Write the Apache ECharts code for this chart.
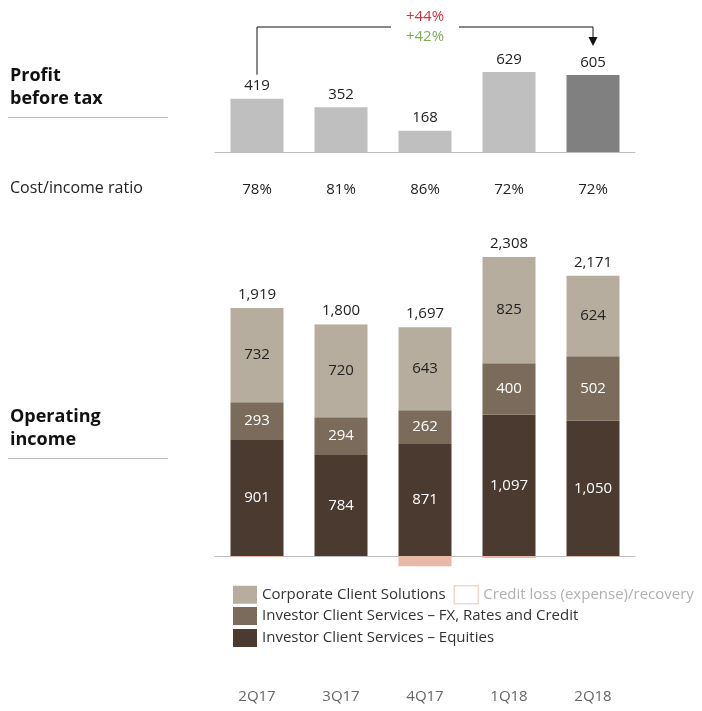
<!DOCTYPE html>
<html>
<head>
<meta charset="utf-8">
<script src="https://cdn.jsdelivr.net/npm/echarts@6/dist/echarts.min.js"></script>
<style>
  html, body { margin: 0; padding: 0; background: #fff; }
  #chart { width: 702px; height: 711px; }
</style>
</head>
<body>
<div id="chart"></div>
<script>
// Quarterly figures (CHF million)
const quarters = ['2Q17', '3Q17', '4Q17', '1Q18', '2Q18'];
const profitBeforeTax = [419, 352, 168, 629, 605];
const costIncomeRatio = ['78%', '81%', '86%', '72%', '72%'];
const corporateClientSolutions = [732, 720, 643, 825, 624];
const icsFxRatesCredit = [293, 294, 262, 400, 502];
const icsEquities = [901, 784, 871, 1097, 1050];
const creditLoss = [-7, 2, -79, -14, -5];
const operatingIncome = [1919, 1800, 1697, 2308, 2171];
const changeLabels = ['+44%', '+42%'];

const FONT = '"Open Sans", "Noto Sans", sans-serif';
const C_CCS = '#b6ad9f';
const C_FX = '#7b6b5b';
const C_EQ = '#4a3a2f';
const C_CREDIT = '#e9b8a6';

const chart = echarts.init(document.getElementById('chart'), null, { renderer: 'canvas' });

const fmt = v => v.toLocaleString('en-US');

const option = {
  animation: false,
  backgroundColor: '#fff',
  textStyle: { fontFamily: FONT },
  grid: [
    { left: 215, width: 420, top: 63, height: 89 },
    { left: 215, width: 420, top: 234, height: 335 }
  ],
  xAxis: [
    {
      type: 'category', gridIndex: 0, data: quarters,
      axisLine: { lineStyle: { color: '#bdbdbd', width: 1 } },
      axisTick: { show: false },
      axisLabel: {
        margin: 30, color: '#222', fontSize: 15, fontFamily: FONT,
        formatter: (v, i) => costIncomeRatio[i]
      }
    },
    {
      type: 'category', gridIndex: 1, data: quarters,
      axisLine: { onZero: true, lineStyle: { color: '#bdbdbd', width: 1 } },
      axisTick: { show: false },
      axisLabel: { margin: 120, color: '#666', fontSize: 15, fontFamily: FONT }
    }
  ],
  yAxis: [
    { type: 'value', gridIndex: 0, min: 0, max: 700, show: false },
    { type: 'value', gridIndex: 1, min: -100, max: 2500, show: false }
  ],
  legend: [
    {
      left: 233, top: 585, padding: 0, itemGap: 8, itemWidth: 24, itemHeight: 18, icon: 'rect',
      textStyle: { fontSize: 15, color: '#333', fontFamily: FONT },
      selectedMode: false,
      data: [
        { name: 'Corporate Client Solutions' },
        { name: 'Credit loss (expense)/recovery',
          itemStyle: { color: '#fff', borderColor: '#f2d6cb', borderWidth: 1.5 },
          textStyle: { color: '#b0b0b0' } }
      ]
    },
    {
      left: 233, top: 607, padding: 0, itemWidth: 24, itemHeight: 18, icon: 'rect',
      textStyle: { fontSize: 15, color: '#333', fontFamily: FONT },
      selectedMode: false,
      data: ['Investor Client Services – FX, Rates and Credit']
    },
    {
      left: 233, top: 629, padding: 0, itemWidth: 24, itemHeight: 18, icon: 'rect',
      textStyle: { fontSize: 15, color: '#333', fontFamily: FONT },
      selectedMode: false,
      data: ['Investor Client Services – Equities']
    }
  ],
  series: [
    {
      name: 'Profit before tax', type: 'bar', xAxisIndex: 0, yAxisIndex: 0,
      barWidth: 53,
      data: profitBeforeTax.map((v, i) => ({
        value: v,
        itemStyle: { color: i === profitBeforeTax.length - 1 ? '#808080' : '#bfbfbf' }
      })),
      label: { show: true, position: 'top', distance: 5, color: '#222', fontSize: 15, fontFamily: FONT }
    },
    {
      name: 'Investor Client Services – Equities', type: 'bar', xAxisIndex: 1, yAxisIndex: 1,
      stack: 'income', barWidth: 53, itemStyle: { color: C_EQ },
      data: icsEquities,
      label: { show: true, position: 'inside', color: '#fff', fontSize: 15, fontFamily: FONT, formatter: p => fmt(p.value) }
    },
    {
      name: 'Investor Client Services – FX, Rates and Credit', type: 'bar', xAxisIndex: 1, yAxisIndex: 1,
      stack: 'income', barWidth: 53, itemStyle: { color: C_FX },
      data: icsFxRatesCredit,
      label: { show: true, position: 'inside', color: '#fff', fontSize: 15, fontFamily: FONT }
    },
    {
      name: 'Corporate Client Solutions', type: 'bar', xAxisIndex: 1, yAxisIndex: 1,
      stack: 'income', barWidth: 53, itemStyle: { color: C_CCS },
      data: corporateClientSolutions,
      label: { show: true, position: 'inside', color: '#222', fontSize: 15, fontFamily: FONT }
    },
    {
      name: 'Credit loss (expense)/recovery', type: 'bar', xAxisIndex: 1, yAxisIndex: 1,
      stack: 'income', barWidth: 53, itemStyle: { color: C_CREDIT },
      data: creditLoss
    },
    {
      // transparent total bar carrying the operating income label
      name: 'Operating income', type: 'bar', xAxisIndex: 1, yAxisIndex: 1,
      barWidth: 53, barGap: '-100%', z: 1,
      itemStyle: { color: 'rgba(0,0,0,0)' },
      data: operatingIncome,
      label: { show: true, position: 'top', distance: 6, color: '#222', fontSize: 15, fontFamily: FONT, formatter: p => fmt(p.value) }
    }
  ]
};

chart.setOption(option);

// The total label sits above the visible stack, whose top is the sum of the positive segments
const px1 = (i, v) => chart.convertToPixel({ xAxisIndex: 1, yAxisIndex: 1 }, [i, v]);
const totalData = operatingIncome.map((v, i) => {
  const stackTop = [icsEquities[i], icsFxRatesCredit[i], corporateClientSolutions[i], creditLoss[i]]
    .filter(x => x > 0).reduce((a, b) => a + b, 0);
  const lift = Math.max(0, px1(i, v)[1] - px1(i, stackTop)[1]);
  return { value: v, label: { offset: [0, -lift] } };
});

// Side captions and the year-on-year change bracket
const px = (i, v) => chart.convertToPixel({ xAxisIndex: 0, yAxisIndex: 0 }, [i, v]);
const first = px(0, profitBeforeTax[0]);
const last = px(quarters.length - 1, profitBeforeTax[quarters.length - 1]);
const bracketY = 27;
const midX = (first[0] + last[0]) / 2;
const gapHalf = 34;
const lineStyle = { stroke: '#111', lineWidth: 1 };
const tipY = last[1] - 29;

chart.setOption({
  series: [{}, {}, {}, {}, {}, { data: totalData }],
  graphic: [
    { type: 'text', left: 10, top: 64, style: { text: 'Profit\nbefore tax', font: 'bold 18px ' + FONT, fill: '#111', lineHeight: 23 } },
    { type: 'line', shape: { x1: 8, y1: 117.5, x2: 168, y2: 117.5 }, style: { stroke: '#bdbdbd', lineWidth: 1 } },
    { type: 'text', left: 10, top: 180, style: { text: 'Cost/income ratio', font: '16px ' + FONT, fill: '#222' } },
    { type: 'text', left: 10, top: 405, style: { text: 'Operating\nincome', font: 'bold 18px ' + FONT, fill: '#111', lineHeight: 23 } },
    { type: 'line', shape: { x1: 8, y1: 458.5, x2: 168, y2: 458.5 }, style: { stroke: '#bdbdbd', lineWidth: 1 } },

    { type: 'polyline', shape: { points: [[first[0], first[1] - 24], [first[0], bracketY], [midX - gapHalf, bracketY]] }, style: Object.assign({ fill: null }, lineStyle) },
    { type: 'polyline', shape: { points: [[midX + gapHalf, bracketY], [last[0], bracketY], [last[0], tipY - 8]] }, style: Object.assign({ fill: null }, lineStyle) },
    { type: 'polygon', shape: { points: [[last[0] - 4.5, tipY - 9], [last[0] + 4.5, tipY - 9], [last[0], tipY]] }, style: { fill: '#111' } },
    { type: 'text', x: midX, y: 17, style: { text: changeLabels[0], font: '15px ' + FONT, fill: '#d0313a', align: 'center', verticalAlign: 'middle' } },
    { type: 'text', x: midX, y: 37, style: { text: changeLabels[1], font: '15px ' + FONT, fill: '#7fae5a', align: 'center', verticalAlign: 'middle' } }
  ]
});
</script>
</body>
</html>
